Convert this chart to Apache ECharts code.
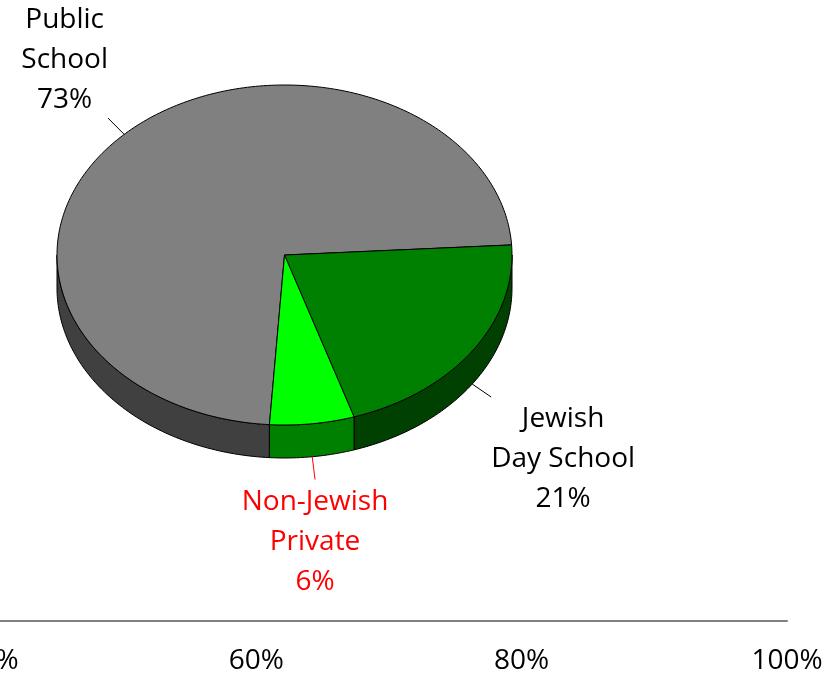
<!DOCTYPE html>
<html lang="en">
<head>
<meta charset="UTF-8">
<title>School type</title>
<style>
html, body { margin: 0; padding: 0; background: #fff; }
#chart { width: 834px; height: 677px; }
</style>
</head>
<body>
<div id="chart"></div>
<script src="https://cdn.jsdelivr.net/npm/echarts@6/dist/echarts.min.js"></script>
<script>
// data
var names = ['Public\nSchool', 'Jewish\nDay School', 'Non-Jewish\nPrivate'];
var values = [73, 21, 6];
var colors = ['#808080', '#008000', '#00FF00'];
var labelColors = ['#000000', '#000000', '#FF0000'];
var axisTicks = [40, 60, 80, 100];

// layout of the tilted pie (like a pie's center/radius/startAngle)
var cx = 284.5, cy = 255, rx = 227.5, ry = 170, depth = 33;
var startAngle = 93.8;  // degrees, clockwise on screen
var FONT = '28px "Open Sans"';
var LINE_H = 40;

var total = values.reduce(function (a, b) { return a + b; }, 0);
var measureCtx = document.createElement('canvas').getContext('2d');
measureCtx.font = FONT;

function rad(d) { return d * Math.PI / 180; }
function rim(t, dy) {
    return [cx + rx * Math.cos(rad(t)), cy + ry * Math.sin(rad(t)) + (dy || 0)];
}
function arc(t1, t2, dy) {
    var pts = [];
    var n = Math.max(2, Math.ceil(Math.abs(t2 - t1)));
    for (var i = 0; i <= n; i++) pts.push(rim(t1 + (t2 - t1) * i / n, dy));
    return pts;
}
// half-brightness colour for the side wall
function darker(col) {
    var rgb = echarts.color.parse(col);
    return 'rgb(' + [0, 1, 2].map(function (j) { return Math.round(rgb[j] * 0.5); }).join(',') + ')';
}

function sliceAngles(idx) {
    var a = startAngle;
    for (var i = 0; i < idx; i++) a += values[i] / total * 360;
    return [a, a + values[idx] / total * 360];
}

function renderItem(params, api) {
    var i = params.dataIndex;
    var ang = sliceAngles(i);
    var t1 = ang[0], t2 = ang[1];
    var children = [];
    var side = darker(colors[i]);

    // visible outer wall: the front half (0..180, repeated each turn)
    for (var k = -1; k <= 2; k++) {
        var lo = Math.max(t1, k * 360), hi = Math.min(t2, k * 360 + 180);
        if (hi > lo) {
            var top = arc(lo, hi, 0);
            var bot = arc(hi, lo, depth);
            children.push({
                type: 'polygon',
                shape: { points: top.concat(bot) },
                style: { fill: side, stroke: '#000', lineWidth: 1 }
            });
        }
    }

    // top face
    children.push({
        type: 'polygon',
        shape: { points: [[cx, cy]].concat(arc(t1, t2, 0)) },
        style: { fill: colors[i], stroke: '#000', lineWidth: 1 }
    });

    // leader line + label
    var mid = (t1 + t2) / 2;
    var c = Math.cos(rad(mid)), s = Math.sin(rad(mid));
    var p0 = rim(mid, s > 0 ? depth : 0);
    var p1 = [p0[0] + c * 23, p0[1] + s * 23];
    children.push({
        type: 'line',
        shape: { x1: p0[0], y1: p0[1], x2: p1[0], y2: p1[1] },
        style: { stroke: labelColors[i], lineWidth: 1 }
    });

    var text = names[i] + '\n' + values[i] + '%';
    var lines = text.split('\n');
    var w = 0;
    lines.forEach(function (l) { w = Math.max(w, measureCtx.measureText(l).width); });
    var halfW = w / 2, halfH = lines.length * LINE_H / 2;
    var fx = Math.min(1, Math.max(0, (Math.abs(c) - 0.2) * 2));
    var lx = p1[0] + (c < 0 ? -1 : 1) * halfW * fx;
    var ly = p1[1] + (s < 0 ? -1 : 1) * halfH + 2;
    children.push({
        type: 'text',
        style: {
            text: text,
            x: lx, y: ly,
            font: FONT,
            lineHeight: LINE_H,
            fill: labelColors[i],
            align: 'center',
            verticalAlign: 'middle'
        }
    });

    return { type: 'group', children: children };
}

var chart = echarts.init(document.getElementById('chart'), null, { renderer: 'canvas' });
chart.setOption({
    animation: false,
    grid: {
        left: -9, right: 47, bottom: 56, top: 600,
        containLabel: false,
        outerBoundsMode: 'none'
    },
    xAxis: {
        type: 'value',
        min: axisTicks[0],
        max: axisTicks[axisTicks.length - 1],
        interval: 20,
        axisLine: { show: true, lineStyle: { color: '#808080', width: 2 } },
        axisTick: { show: false },
        splitLine: { show: false },
        axisLabel: {
            margin: 26,
            color: '#000',
            fontSize: 28,
            fontFamily: 'Open Sans',
            formatter: '{value}%',
            showMinLabel: true,
            showMaxLabel: true
        }
    },
    yAxis: { type: 'value', show: false },
    series: [{
        type: 'custom',
        coordinateSystem: 'none',
        renderItem: renderItem,
        data: values.map(function (v, i) { return { name: names[i], value: v }; })
    }]
});
</script>
</body>
</html>
